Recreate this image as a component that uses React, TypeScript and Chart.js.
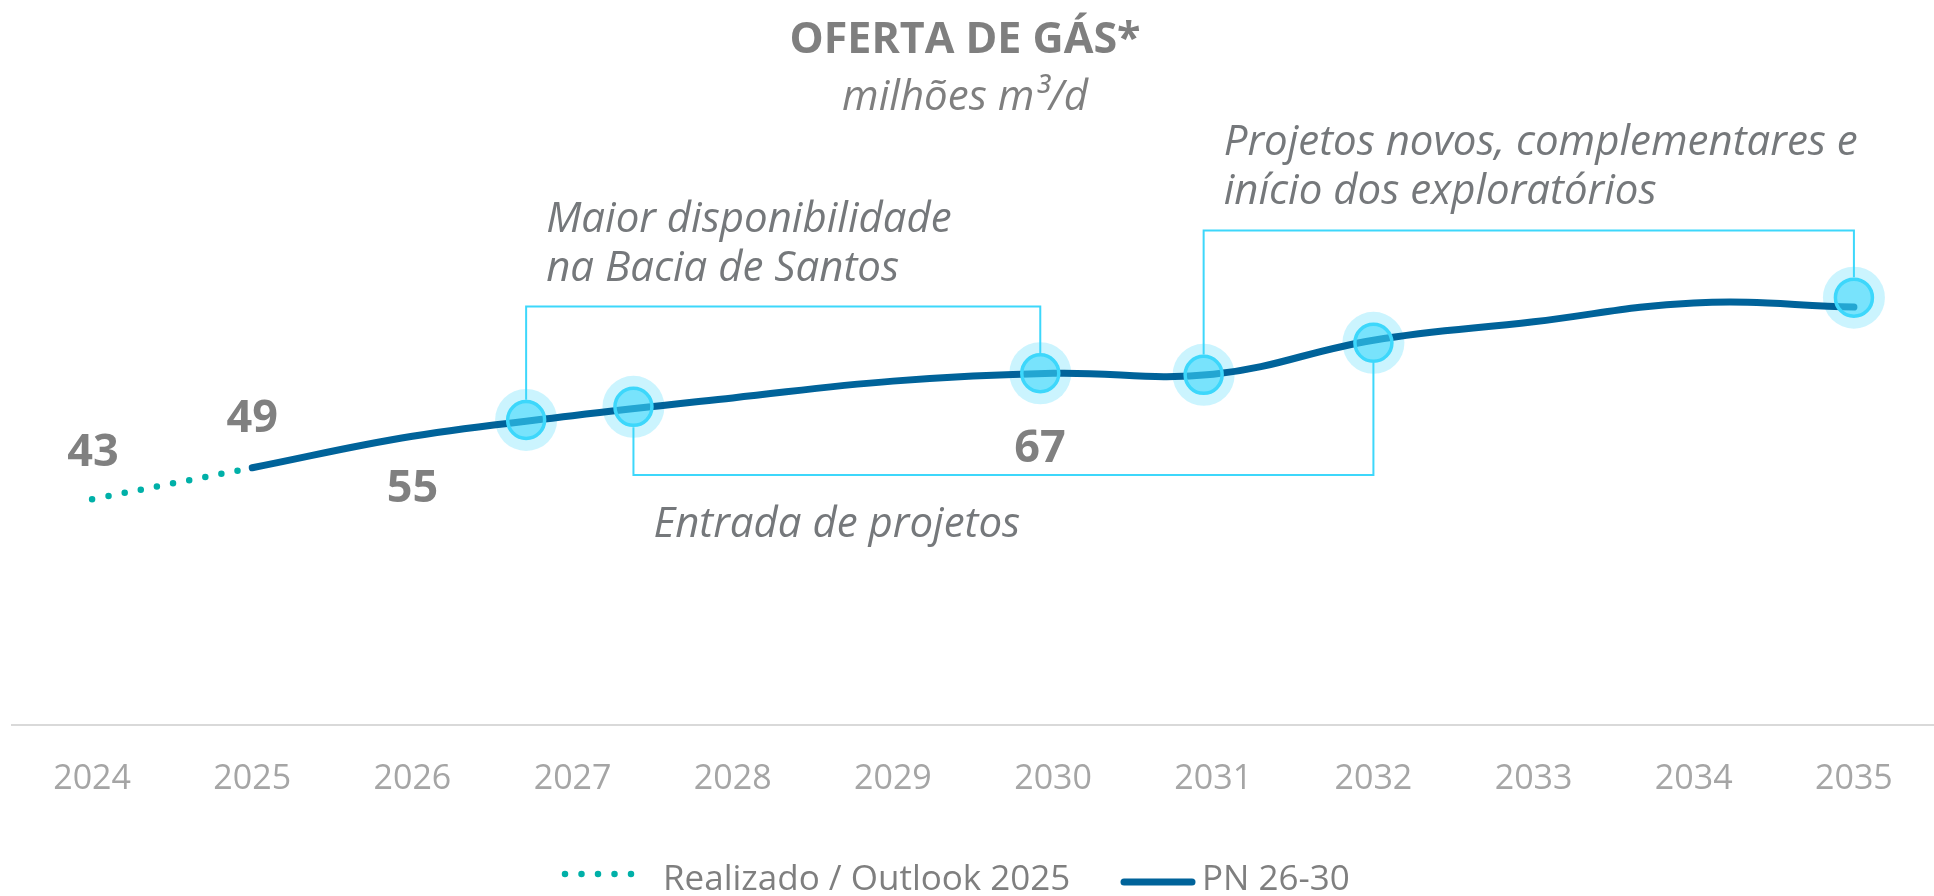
import React, { useEffect, useRef } from 'react';
import { Chart, registerables } from 'chart.js';

Chart.register(...registerables);

// ---- data ----
const years = [2024, 2025, 2026, 2027, 2028, 2029, 2030, 2031, 2032, 2033, 2034, 2035];
const realizadoYears = [2024, 2025];
const realizadoValues = [43, 49];
const pnYears = [2025, 2026, 2027, 2028, 2029, 2030, 2031, 2032, 2033, 2034, 2035];
const pnValues = [49, 55, 58.9, 62.3, 65.5, 67, 66.8, 73.3, 76.8, 80.4, 79.6];

const labelYears = [2024, 2025, 2026, 2030];
const labelValues = [43, 49, 55, 67];

const markerYears = [2026.71, 2027.38, 2029.92, 2030.94, 2032.0, 2035.0];
const markerValues = [58.1, 60.6, 67.0, 66.7, 72.8, 81.4];

const bracketPairs = [[0, 2], [1, 4], [3, 5]];
const bracketLevels = [79.7, 47.6, 94.2];
const bracketTexts = [
  ['Maior disponibilidade', 'na Bacia de Santos'],
  ['Entrada de projetos'],
  ['Projetos novos, complementares e', 'início dos exploratórios'],
];

const titleText = 'OFERTA DE GÁS*';
const subtitleText = 'milhões m³/d';
const legendLabels = ['Realizado / Outlook 2025', 'PN 26-30'];

// ---- styles / placement (not data) ----
const FONT = "'Open Sans', 'DejaVu Sans', sans-serif";
const TEAL = '#00B0A8';
const BLUE = '#00639A';
const CYAN = '#3DD7FB';
const labelOffsets = [[1, -46], [0, -49], [0, 53], [-13, 76]];
const markerOuterRadius = 20.3;

const overlayPlugin = {
  id: 'overlay',
  beforeDatasetsDraw(chart: any) {
    const ctx = chart.ctx;
    const xs = chart.scales.x;
    const ys = chart.scales.y;
    ctx.save();
    ctx.strokeStyle = CYAN;
    ctx.lineWidth = 2;
    bracketPairs.forEach((pair, i) => {
      const lvl = ys.getPixelForValue(bracketLevels[i]);
      const pts = pair.map((m) => ({
        x: xs.getPixelForValue(markerYears[m]),
        y: ys.getPixelForValue(markerValues[m]),
      }));
      ctx.beginPath();
      pts.forEach((p, k) => {
        const edge = lvl < p.y ? p.y - markerOuterRadius : p.y + markerOuterRadius;
        if (k === 0) {
          ctx.moveTo(p.x, edge);
          ctx.lineTo(p.x, lvl);
        } else {
          ctx.lineTo(p.x, lvl);
          ctx.lineTo(p.x, edge);
        }
      });
      ctx.stroke();
    });
    ctx.restore();
  },
  afterDatasetsDraw(chart: any) {
    const ctx = chart.ctx;
    const xs = chart.scales.x;
    const ys = chart.scales.y;
    ctx.save();
    // value labels
    ctx.font = `bold 45px ${FONT}`;
    ctx.fillStyle = '#808080';
    ctx.textAlign = 'center';
    ctx.textBaseline = 'middle';
    labelYears.forEach((yr, i) => {
      const x = xs.getPixelForValue(yr) + labelOffsets[i][0];
      const y = ys.getPixelForValue(labelValues[i]) + labelOffsets[i][1];
      ctx.fillText(String(labelValues[i]), x, y);
    });
    // bracket texts
    ctx.font = `italic 42px ${FONT}`;
    ctx.fillStyle = '#75787B';
    ctx.textAlign = 'left';
    ctx.textBaseline = 'alphabetic';
    bracketPairs.forEach((pair, i) => {
      const lvl = ys.getPixelForValue(bracketLevels[i]);
      const leftX = xs.getPixelForValue(markerYears[pair[0]]) + 20;
      const mY = ys.getPixelForValue(markerValues[pair[0]]);
      const lines = bracketTexts[i];
      if (lvl < mY) {
        lines.forEach((t, k) => {
          ctx.fillText(t, leftX, lvl - 26 - (lines.length - 1 - k) * 49);
        });
      } else {
        lines.forEach((t, k) => {
          ctx.fillText(t, leftX, lvl + 62 + k * 49);
        });
      }
    });
    ctx.restore();
  },
  afterDraw(chart: any) {
    const ctx = chart.ctx;
    const w = chart.width;
    ctx.save();
    ctx.textAlign = 'center';
    ctx.textBaseline = 'alphabetic';
    ctx.fillStyle = '#7F7F7F';
    ctx.font = `bold 43px ${FONT}`;
    ctx.fillText(titleText, w / 2 - 2, 53);
    ctx.font = `italic 42px ${FONT}`;
    ctx.fillText(subtitleText, w / 2 - 2, 110);

    // legend
    ctx.lineCap = 'round';
    ctx.strokeStyle = TEAL;
    ctx.lineWidth = 6.5;
    ctx.setLineDash([0, 16.5]);
    ctx.beginPath();
    ctx.moveTo(565, 874);
    ctx.lineTo(632, 874);
    ctx.stroke();
    ctx.setLineDash([]);
    ctx.strokeStyle = BLUE;
    ctx.lineWidth = 7;
    ctx.beginPath();
    ctx.moveTo(1124, 882);
    ctx.lineTo(1192, 882);
    ctx.stroke();
    ctx.font = `35px ${FONT}`;
    ctx.fillStyle = '#7F7F7F';
    ctx.textAlign = 'left';
    ctx.fillText(legendLabels[0], 663, 890);
    ctx.fillText(legendLabels[1], 1202, 890);
    ctx.restore();
  },
};

export default function App() {
  const canvasRef = useRef<HTMLCanvasElement | null>(null);

  useEffect(() => {
    const canvas = canvasRef.current;
    if (!canvas) return;
    const chart = new Chart(canvas, {
      type: 'line',
      data: {
        datasets: [
          {
            label: 'marcos',
            data: markerYears.map((x, i) => ({ x, y: markerValues[i] })),
            showLine: false,
            pointRadius: 18.5,
            pointBorderWidth: 3.5,
            pointBackgroundColor: 'rgba(61,215,251,0.58)',
            pointBorderColor: CYAN,
            order: 0,
          },
          {
            label: legendLabels[1],
            data: pnYears.map((x, i) => ({ x, y: pnValues[i] })),
            borderColor: BLUE,
            borderWidth: 7,
            borderCapStyle: 'round',
            borderJoinStyle: 'round',
            tension: 0.4,
            pointRadius: 0,
            fill: false,
            order: 1,
          },
          {
            label: legendLabels[0],
            data: realizadoYears.map((x, i) => ({ x, y: realizadoValues[i] })),
            borderColor: TEAL,
            borderWidth: 6.5,
            borderDash: [0, 16.5],
            borderCapStyle: 'round',
            tension: 0.4,
            pointRadius: 0,
            fill: false,
            order: 2,
          },
          {
            label: 'halo',
            data: markerYears.map((x, i) => ({ x, y: markerValues[i] })),
            showLine: false,
            pointRadius: 31,
            pointBorderWidth: 0,
            pointBackgroundColor: 'rgba(61,215,251,0.27)',
            pointBorderColor: 'rgba(0,0,0,0)',
            order: 3,
          },
        ],
      },
      options: {
        responsive: false,
        animation: false,
        events: [],
        devicePixelRatio: 1,
        layout: { autoPadding: false, padding: { left: 12, right: 0, top: 147.5, bottom: 62.2 } },
        plugins: {
          legend: { display: false },
          tooltip: { enabled: false },
          title: { display: false },
        },
        scales: {
          x: {
            type: 'linear',
            min: 2023.5,
            max: 2035.5,
            grid: { display: false, drawTicks: false },
            border: { display: true, color: '#D9D9D9', width: 2 },
            afterBuildTicks: (scale: any) => {
              scale.ticks = years.map((v) => ({ value: v }));
            },
            afterFit: (scale: any) => {
              scale.paddingLeft = 0;
              scale.paddingRight = 0;
            },
            ticks: {
              padding: 34,
              color: '#A5A5A5',
              font: { size: 34, family: FONT },
              autoSkip: false,
              maxRotation: 0,
              callback: (v: any) => String(v),
            },
          },
          y: { display: false, min: 0, max: 110 },
        },
      },
      plugins: [overlayPlugin],
    } as any);
    return () => chart.destroy();
  }, []);

  return (
    <div style={{ position: 'fixed', left: 0, top: 0, width: 1934, height: 896, background: '#fff' }}>
      <canvas ref={canvasRef} width={1934} height={896} style={{ display: 'block', width: 1934, height: 896 }} />
    </div>
  );
}
